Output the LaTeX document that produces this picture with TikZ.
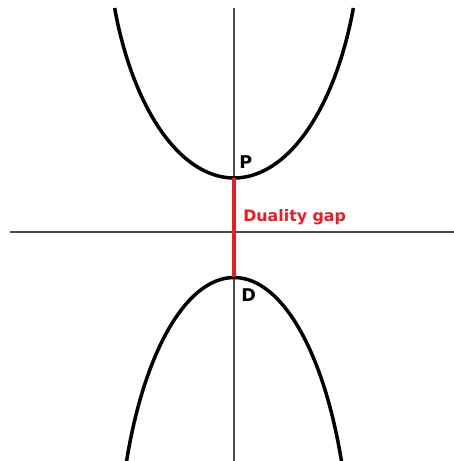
\documentclass[tikz,border=0pt]{standalone}
\usepackage{fontspec}
\newfontfamily\lblfont{DejaVu Sans}
\definecolor{gapred}{RGB}{236,28,36}
\begin{document}
\begin{tikzpicture}[font=\lblfont\bfseries]
  \useasboundingbox (-4.68,-4.58) rectangle (4.38,4.64);
  \draw[black!70,line width=0.8pt](-4.48,0)--(4.45,0);
  \draw[black!70,line width=0.8pt](0,4.48)--(0,-4.65);
  \draw[line width=2pt,domain=200.56:339.44,samples=80,smooth] plot({2.55*cos(\x)},{6.32+5.24*sin(\x)});
  \draw[line width=2pt,domain=21.92:158.08,samples=80,smooth] plot({2.328*cos(\x)},{-6.878+5.968*sin(\x)});
  \coordinate (P) at (0,1.08);
  \coordinate (D) at (0,-0.91);
  \draw[gapred,line width=2.1pt] (P)--(D);
  \node[anchor=base west,inner sep=0pt,font=\lblfont\bfseries\fontsize{10}{12}\selectfont] (plbl) at (0.10,1.26) {P};
  \node[anchor=base west,inner sep=0pt,font=\lblfont\bfseries\fontsize{10}{12}\selectfont] (dlbl) at (0.14,-1.40) {D};
  \node[anchor=base west,inner sep=0pt,gapred,font=\lblfont\bfseries\fontsize{9}{11}\selectfont] (gaplbl) at (0.18,0.21) {Duality gap};
\end{tikzpicture}
\end{document}
